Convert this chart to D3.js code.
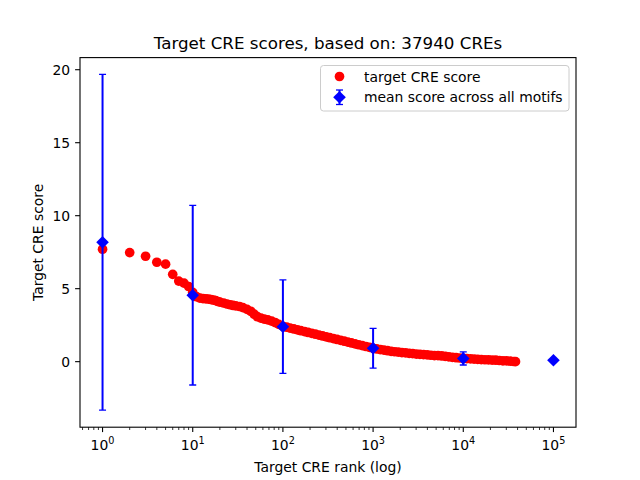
<!DOCTYPE html>
<html>
<head>
<meta charset="utf-8">
<script src="https://cdn.jsdelivr.net/npm/d3@7"></script>
<style>
  body { margin: 0; background: #fff; }
  svg text { font-family: "DejaVu Sans", sans-serif; fill: #000; }
</style>
</head>
<body>
<svg id="chart"></svg>
<script>
// target CRE scores, sampled along the sorted curve (rank, score)
const scoreRanks = [1, 2, 3, 4, 5, 6, 7, 8, 9, 10, 11, 12, 13, 14, 15, 16, 17, 18, 19, 20,
  22, 24, 26, 28, 30, 33, 36, 40, 44, 48, 52, 57, 62, 68, 75, 82, 90, 100,
  110, 120, 132, 145, 158, 174, 190, 209, 229, 251, 275, 302, 331, 363, 398, 437, 479,
  525, 575, 631, 692, 759, 832, 912, 1000, 1096, 1202, 1318, 1445, 1585, 1738, 1905,
  2089, 2291, 2512, 2754, 3020, 3311, 3631, 3981, 4365, 4786, 5248, 5754, 6310, 6918,
  7586, 8318, 9120, 10000, 10965, 12023, 13183, 14454, 15849, 17378, 19055, 20893,
  22909, 25119, 27542, 30200, 33113, 36308, 37940];
const scores = [7.70, 7.47, 7.22, 6.81, 6.68, 5.98, 5.52, 5.38, 5.15, 4.75, 4.45, 4.35, 4.32, 4.30, 4.28, 4.25, 4.22, 4.18, 4.12, 4.08,
  4.02, 3.95, 3.90, 3.85, 3.82, 3.78, 3.70, 3.58, 3.45, 3.25, 3.08, 2.98, 2.92, 2.86, 2.78, 2.68, 2.55, 2.42,
  2.36, 2.30, 2.24, 2.18, 2.12, 2.06, 2.00, 1.94, 1.88, 1.82, 1.76, 1.70, 1.64, 1.58, 1.52, 1.46, 1.40,
  1.34, 1.28, 1.22, 1.16, 1.10, 1.04, 0.98, 0.92, 0.87, 0.83, 0.79, 0.75, 0.71, 0.68, 0.65,
  0.62, 0.60, 0.57, 0.55, 0.52, 0.50, 0.48, 0.46, 0.44, 0.42, 0.41, 0.39, 0.36, 0.33,
  0.30, 0.27, 0.25, 0.23, 0.21, 0.19, 0.17, 0.16, 0.14, 0.13, 0.12, 0.11,
  0.10, 0.08, 0.06, 0.05, 0.03, 0.01, 0.00];

// mean score across all motifs with error bars
const meanRanks = [1, 10, 100, 1000, 10000, 100000];
const meanScores = [8.18, 4.55, 2.40, 0.92, 0.22, 0.10];
const meanErrs = [11.5, 6.15, 3.2, 1.36, 0.45, 0];

const yTicks = [0, 5, 10, 15, 20];
const xTickExps = [0, 1, 2, 3, 4, 5];

const width = 640, height = 480;
const axLeft = 80, axRight = 576, axTop = 57.6, axBottom = 427.2;

const svg = d3.select("#chart").attr("width", width).attr("height", height);

const x = d3.scaleLog().domain([Math.pow(10, -0.25), Math.pow(10, 5.25)]).range([axLeft, axRight]);
const y = d3.scaleLinear().domain([-4.49, 20.83]).range([axBottom, axTop]);

// clip for the marks
svg.append("clipPath").attr("id", "clip")
  .append("rect").attr("x", axLeft).attr("y", axTop).attr("width", axRight - axLeft).attr("height", axBottom - axTop);

const plot = svg.append("g").attr("clip-path", "url(#clip)");

// red scatter
plot.selectAll(".pt")
  .data(scoreRanks.map((r, i) => [r, scores[i]]))
  .enter().append("circle")
  .attr("class", "pt")
  .attr("cx", d => x(d[0]))
  .attr("cy", d => y(d[1]))
  .attr("r", 4.85)
  .attr("fill", "#ff0000");

// error bars
const means = meanRanks.map((r, i) => ({ r: r, m: meanScores[i], e: meanErrs[i] }));
const bars = plot.selectAll(".eb").data(means.filter(d => d.e > 0)).enter().append("g");
bars.append("line")
  .attr("x1", d => x(d.r)).attr("x2", d => x(d.r))
  .attr("y1", d => y(d.m - d.e)).attr("y2", d => y(d.m + d.e))
  .attr("stroke", "#0000ff").attr("stroke-width", 2);
[-1, 1].forEach(s => {
  bars.append("line")
    .attr("x1", d => x(d.r) - 3.5).attr("x2", d => x(d.r) + 3.5)
    .attr("y1", d => y(d.m + s * d.e)).attr("y2", d => y(d.m + s * d.e))
    .attr("stroke", "#0000ff").attr("stroke-width", 1.3);
});

const dia = 6.3;
const diamond = (cx, cy) => `M${cx},${cy - dia}L${cx + dia},${cy}L${cx},${cy + dia}L${cx - dia},${cy}Z`;
plot.selectAll(".mean")
  .data(means)
  .enter().append("path")
  .attr("d", d => diamond(x(d.r), y(d.m)))
  .attr("fill", "#0000ff");

// axes frame
svg.append("rect")
  .attr("x", axLeft).attr("y", axTop).attr("width", axRight - axLeft).attr("height", axBottom - axTop)
  .attr("fill", "none").attr("stroke", "#000").attr("stroke-width", 1.1);

// y ticks
const yg = svg.append("g");
yTicks.forEach(t => {
  yg.append("line").attr("x1", axLeft - 4.9).attr("x2", axLeft)
    .attr("y1", y(t)).attr("y2", y(t)).attr("stroke", "#000").attr("stroke-width", 1.1);
  yg.append("text").attr("x", axLeft - 9.8).attr("y", y(t)).attr("dy", "0.36em")
    .attr("text-anchor", "end").attr("font-size", 13.9).text(t);
});

// x ticks (major + minor)
const xg = svg.append("g");
const minorTicks = [];
for (let e = -1; e <= 5; e++) {
  for (let k = 2; k <= 9; k++) {
    const v = k * Math.pow(10, e);
    if (v >= x.domain()[0] && v <= x.domain()[1]) minorTicks.push(v);
  }
}
minorTicks.forEach(v => {
  xg.append("line").attr("x1", x(v)).attr("x2", x(v))
    .attr("y1", axBottom).attr("y2", axBottom + 2.8).attr("stroke", "#000").attr("stroke-width", 0.8);
});
xTickExps.forEach(e => {
  const px = x(Math.pow(10, e));
  xg.append("line").attr("x1", px).attr("x2", px)
    .attr("y1", axBottom).attr("y2", axBottom + 4.9).attr("stroke", "#000").attr("stroke-width", 1.1);
  const t = xg.append("text").attr("x", px).attr("y", axBottom + 23)
    .attr("text-anchor", "middle").attr("font-size", 13.9);
  t.append("tspan").text("10");
  t.append("tspan").attr("dy", -6).attr("font-size", 9.7).text(e);
});

// labels
svg.append("text").attr("x", (axLeft + axRight) / 2).attr("y", 49)
  .attr("text-anchor", "middle").attr("font-size", 16.7)
  .text("Target CRE scores, based on: 37940 CREs");
svg.append("text").attr("x", (axLeft + axRight) / 2).attr("y", 472)
  .attr("text-anchor", "middle").attr("font-size", 13.9)
  .text("Target CRE rank (log)");
svg.append("text")
  .attr("transform", `translate(43, ${(axTop + axBottom) / 2}) rotate(-90)`)
  .attr("text-anchor", "middle").attr("font-size", 13.9)
  .text("Target CRE score");

// legend
const lg = svg.append("g");
lg.append("rect").attr("x", 320.5).attr("y", 65.5).attr("width", 248.5).attr("height", 45.5)
  .attr("rx", 3).attr("fill", "#fff").attr("fill-opacity", 0.8)
  .attr("stroke", "#cccccc").attr("stroke-width", 1);
lg.append("circle").attr("cx", 339.5).attr("cy", 76.5).attr("r", 4.85).attr("fill", "#ff0000");
lg.append("text").attr("x", 364).attr("y", 76.5).attr("dy", "0.36em").attr("font-size", 13.9)
  .text("target CRE score");
lg.append("line").attr("x1", 339.5).attr("x2", 339.5).attr("y1", 90).attr("y2", 104.5)
  .attr("stroke", "#0000ff").attr("stroke-width", 2);
lg.append("line").attr("x1", 336).attr("x2", 343).attr("y1", 90).attr("y2", 90)
  .attr("stroke", "#0000ff").attr("stroke-width", 1.3);
lg.append("line").attr("x1", 336).attr("x2", 343).attr("y1", 104.5).attr("y2", 104.5)
  .attr("stroke", "#0000ff").attr("stroke-width", 1.3);
lg.append("path").attr("d", diamond(339.5, 97.3)).attr("fill", "#0000ff");
lg.append("text").attr("x", 364).attr("y", 97.3).attr("dy", "0.36em").attr("font-size", 13.9)
  .text("mean score across all motifs");
</script>
</body>
</html>
